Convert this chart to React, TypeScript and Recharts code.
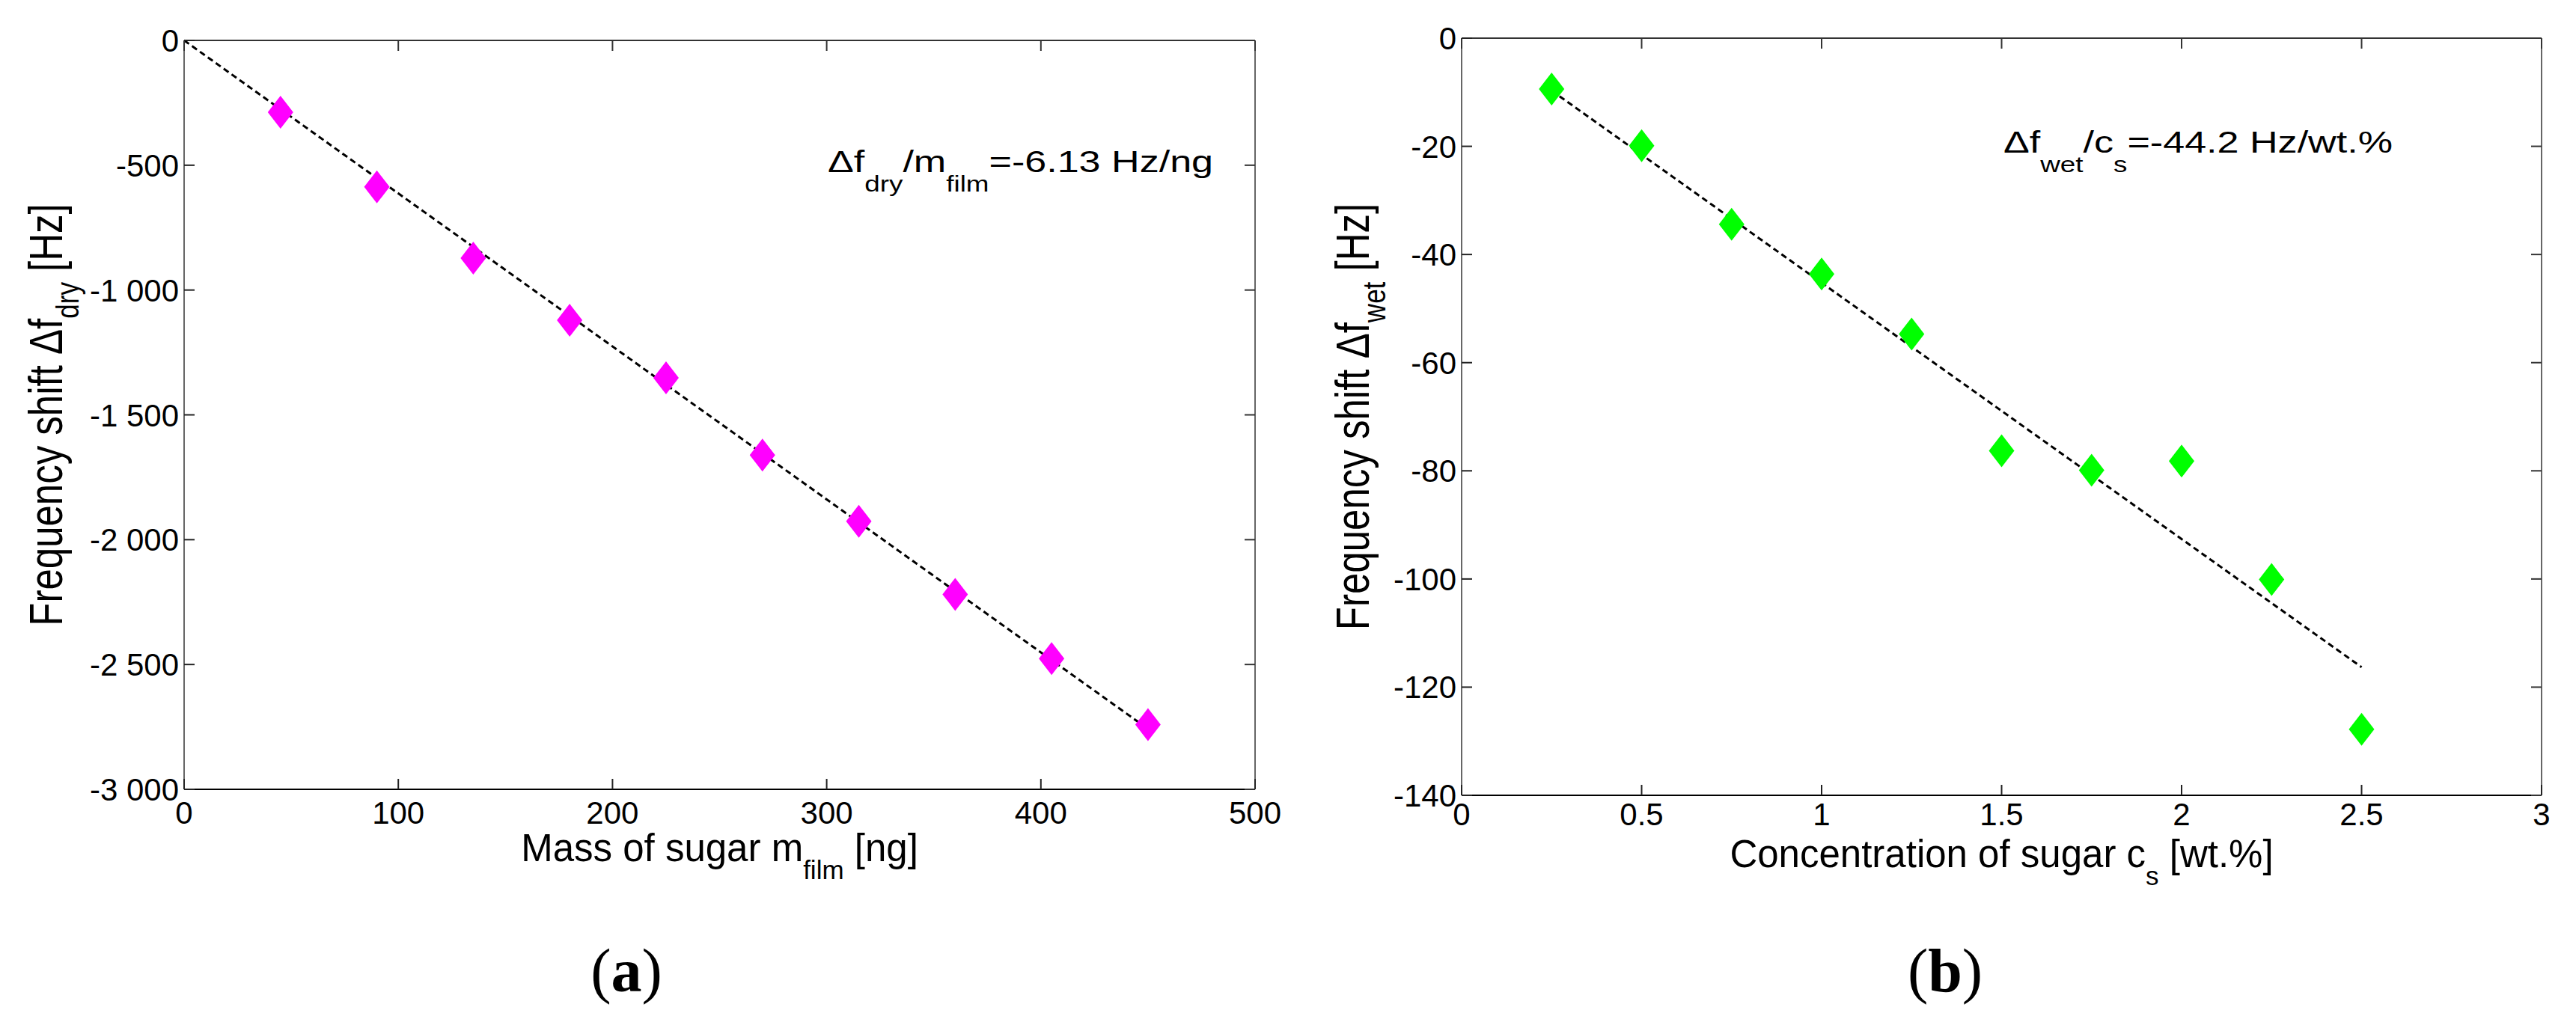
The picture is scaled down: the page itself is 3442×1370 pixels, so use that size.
import React from "react";
import { Scatter, ScatterChart, XAxis, YAxis } from "recharts";

// panel (a): dry film
const massNg = [45, 90, 135, 180, 225, 270, 315, 360, 405, 450];
const dryShiftHz = [-288, -587, -872, -1121, -1352, -1661, -1926, -2219, -2476, -2741];
const dryFitX = [0, 450];
const dryFitY = [0, -2758];
const massTicks = [0, 100, 200, 300, 400, 500];
const massTickLabels = ["0", "100", "200", "300", "400", "500"];
const dryTicks = [0, -500, -1000, -1500, -2000, -2500, -3000];
const dryTickLabels = ["0", "-500", "-1 000", "-1 500", "-2 000", "-2 500", "-3 000"];

// panel (b): wet film
const concWt = [0.25, 0.5, 0.75, 1, 1.25, 1.5, 1.75, 2, 2.25, 2.5];
const wetShiftHz = [-9.4, -19.9, -34.4, -43.6, -54.7, -76.3, -79.9, -78.2, -100.1, -127.8];
const wetFitX = [0.25, 2.5];
const wetFitY = [-9.7, -116.3];
const concTicks = [0, 0.5, 1, 1.5, 2, 2.5, 3];
const concTickLabels = ["0", "0.5", "1", "1.5", "2", "2.5", "3"];
const wetTicks = [0, -20, -40, -60, -80, -100, -120, -140];
const wetTickLabels = ["0", "-20", "-40", "-60", "-80", "-100", "-120", "-140"];

const SANS = '"Liberation Sans", Arial, Helvetica, sans-serif';
const SERIF = '"Liberation Serif", "Times New Roman", serif';
const TICK_LEN = 14;

type Pt = { x: number; y: number };
const zip = (xs: number[], ys: number[]): Pt[] => xs.map((x, i) => ({ x, y: ys[i] }));

const labelFor = (ticks: number[], labels: string[]) => (v: number) => {
  const i = ticks.findIndex((t) => Math.abs(t - v) < 1e-9);
  return i >= 0 ? labels[i] : String(v);
};

function diamond(color: string) {
  return (props: any) => {
    const { cx, cy } = props;
    if (cx == null || cy == null) return <g />;
    return (
      <polygon
        points={`${cx},${cy - 22} ${cx + 17},${cy} ${cx},${cy + 22} ${cx - 17},${cy}`}
        fill={color}
      />
    );
  };
}

type PanelProps = {
  left: number;
  width: number;
  // plot box inside this panel
  box: { top: number; right: number; bottom: number; left: number };
  points: Pt[];
  fit: Pt[];
  color: string;
  xDomain: [number, number];
  yDomain: [number, number];
  xTicks: number[];
  xFmt: (v: number) => string;
  yTicks: number[];
  yFmt: (v: number) => string;
  xTickDy: number;
  xLabel: [string, string, string];
  yLabel: [string, string, string];
  yLabelOffset: number;
};

function Panel(p: PanelProps) {
  const bottomTick = (t: any) => (
    <g>
      <line x1={t.x} y1={t.y} x2={t.x} y2={t.y - TICK_LEN} stroke="#222" strokeWidth={2} />
      <text x={t.x} y={t.y + p.xTickDy} textAnchor="middle" fontSize={42} fontFamily={SANS} fill="#000">
        {p.xFmt(t.payload.value)}
      </text>
    </g>
  );
  const leftTick = (t: any) => (
    <g>
      <line x1={t.x} y1={t.y} x2={t.x + TICK_LEN} y2={t.y} stroke="#222" strokeWidth={2} />
      <text x={t.x - 7} y={t.y + 15} textAnchor="end" fontSize={42} fontFamily={SANS} fill="#000">
        {p.yFmt(t.payload.value)}
      </text>
    </g>
  );
  const topTick = (t: any) => (
    <line x1={t.x} y1={t.y} x2={t.x} y2={t.y + TICK_LEN} stroke="#333" strokeWidth={2} />
  );
  const rightTick = (t: any) => (
    <line x1={t.x} y1={t.y} x2={t.x - TICK_LEN} y2={t.y} stroke="#333" strokeWidth={2} />
  );

  const xLabelContent = (props: any) => {
    const vb = props.viewBox;
    return (
      <text
        x={vb.x + vb.width / 2}
        y={vb.y + 96}
        textAnchor="middle"
        fontSize={51}
        fontFamily={SANS}
        fill="#000"
      >
        {p.xLabel[0]}
        <tspan fontSize={35} dy={24}>{p.xLabel[1]}</tspan>
        <tspan dy={-24}>{p.xLabel[2]}</tspan>
      </text>
    );
  };

  const yLabelContent = (props: any) => {
    const vb = props.viewBox;
    const bx = vb.x + vb.width - p.yLabelOffset;
    const cy = vb.y + vb.height / 2;
    return (
      <text
        transform={`translate(${bx},${cy}) scale(1.23,1) rotate(-90)`}
        x={0}
        y={0}
        textAnchor="middle"
        fontSize={51}
        fontFamily={SANS}
        fill="#000"
      >
        {p.yLabel[0]}
        <tspan fontSize={35} dy={18}>{p.yLabel[1]}</tspan>
        <tspan dy={-18}>{p.yLabel[2]}</tspan>
      </text>
    );
  };

  // axes take 1px each, so the margins are one less than the plot box
  const margin = {
    top: p.box.top - 1,
    right: p.width - p.box.right - 1,
    bottom: 1370 - p.box.bottom - 1,
    left: p.box.left - 1,
  };

  return (
    <div style={{ position: "absolute", left: p.left, top: 0 }}>
      <ScatterChart width={p.width} height={1370} margin={margin}>
        <XAxis
          xAxisId="b"
          type="number"
          dataKey="x"
          orientation="bottom"
          domain={p.xDomain}
          ticks={p.xTicks}
          interval={0}
          height={1}
          tickSize={0}
          tickMargin={0}
          tickLine={false}
          tick={bottomTick}
          axisLine={{ stroke: "#000", strokeWidth: 2 }}
          label={{ content: xLabelContent }}
        />
        <XAxis
          xAxisId="t"
          type="number"
          dataKey="x"
          orientation="top"
          domain={p.xDomain}
          ticks={p.xTicks}
          interval={0}
          height={1}
          tickSize={0}
          tickMargin={0}
          tickLine={false}
          tick={topTick}
          axisLine={{ stroke: "#333", strokeWidth: 2 }}
        />
        <YAxis
          yAxisId="l"
          type="number"
          dataKey="y"
          orientation="left"
          domain={p.yDomain}
          ticks={p.yTicks}
          interval={0}
          width={1}
          tickSize={0}
          tickMargin={0}
          tickLine={false}
          tick={leftTick}
          axisLine={{ stroke: "#666", strokeWidth: 2 }}
          label={{ content: yLabelContent }}
        />
        <YAxis
          yAxisId="r"
          type="number"
          dataKey="y"
          orientation="right"
          domain={p.yDomain}
          ticks={p.yTicks}
          interval={0}
          width={1}
          tickSize={0}
          tickMargin={0}
          tickLine={false}
          tick={rightTick}
          axisLine={{ stroke: "#666", strokeWidth: 2 }}
        />
        <Scatter
          xAxisId="t"
          yAxisId="r"
          data={p.fit}
          line={{ stroke: "#000", strokeWidth: 3, strokeDasharray: "8 5" }}
          shape={() => <g />}
          legendType="none"
          isAnimationActive={false}
        />
        <Scatter
          xAxisId="b"
          yAxisId="l"
          data={p.points}
          shape={diamond(p.color)}
          isAnimationActive={false}
        />
      </ScatterChart>
    </div>
  );
}

export default function App() {
  return (
    <div
      style={{
        position: "absolute",
        left: 0,
        top: 0,
        width: 3442,
        height: 1370,
        background: "#fff",
        overflow: "hidden",
      }}
    >
      <Panel
        left={0}
        width={1720}
        box={{ top: 54, right: 1677, bottom: 1055, left: 246 }}
        points={zip(massNg, dryShiftHz)}
        fit={zip(dryFitX, dryFitY)}
        color="#ff00ff"
        xDomain={[0, 500]}
        yDomain={[-3000, 0]}
        xTicks={massTicks}
        xFmt={labelFor(massTicks, massTickLabels)}
        yTicks={dryTicks}
        yFmt={labelFor(dryTicks, dryTickLabels)}
        xTickDy={46}
        xLabel={["Mass of sugar m", "film", "\u00a0[ng]"]}
        yLabel={["Frequency shift \u0394f", "dry", "\u00a0[Hz]"]}
        yLabelOffset={163}
      />
      <Panel
        left={1720}
        width={1722}
        box={{ top: 51, right: 1676, bottom: 1063, left: 233 }}
        points={zip(concWt, wetShiftHz)}
        fit={zip(wetFitX, wetFitY)}
        color="#00ff00"
        xDomain={[0, 3]}
        yDomain={[-140, 0]}
        xTicks={concTicks}
        xFmt={labelFor(concTicks, concTickLabels)}
        yTicks={wetTicks}
        yFmt={labelFor(wetTicks, wetTickLabels)}
        xTickDy={40}
        xLabel={["Concentration of sugar c", "s", "\u00a0[wt.%]"]}
        yLabel={["Frequency shift \u0394f", "wet", "\u00a0[Hz]"]}
        yLabelOffset={124}
      />
      <svg
        width={3442}
        height={1370}
        style={{ position: "absolute", left: 0, top: 0, pointerEvents: "none" }}
      >
        <text transform="translate(1106,230) scale(1.27,1)" fontSize={41} fontFamily={SANS} fill="#000">
          {"\u0394f"}
          <tspan fontSize={29} dy={26}>dry</tspan>
          <tspan dy={-26}>/m</tspan>
          <tspan fontSize={29} dy={26}>film</tspan>
          <tspan dy={-26}>=-6.13 Hz/ng</tspan>
        </text>
        <text transform="translate(2677,204) scale(1.27,1)" fontSize={41} fontFamily={SANS} fill="#000">
          {"\u0394f"}
          <tspan fontSize={29} dy={26}>wet</tspan>
          <tspan dy={-26}>/c</tspan>
          <tspan fontSize={29} dy={26}>s</tspan>
          <tspan dy={-26}>=-44.2 Hz/wt.%</tspan>
        </text>
        <text x={837} y={1325} textAnchor="middle" fontSize={82} fontFamily={SERIF} fill="#000">
          (<tspan fontWeight="bold">a</tspan>)
        </text>
        <text x={2599} y={1325} textAnchor="middle" fontSize={82} fontFamily={SERIF} fill="#000">
          (<tspan fontWeight="bold">b</tspan>)
        </text>
      </svg>
    </div>
  );
}
